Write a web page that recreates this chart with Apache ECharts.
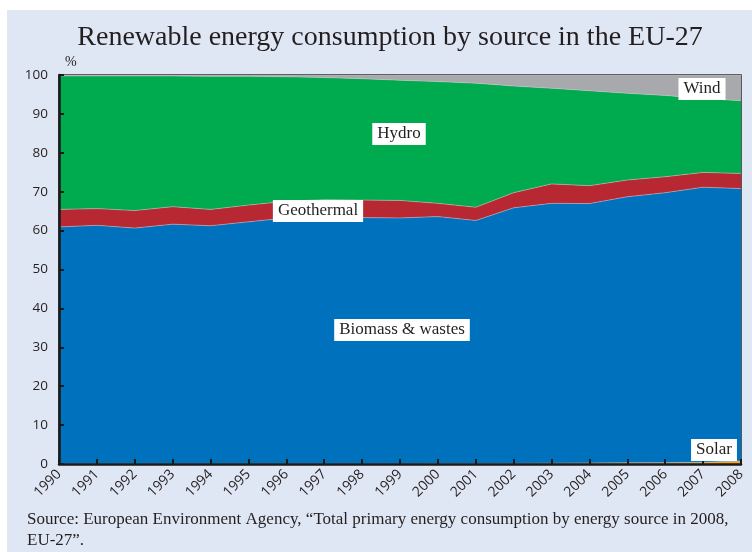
<!DOCTYPE html>
<html>
<head>
<meta charset="utf-8">
<script src="https://cdn.jsdelivr.net/npm/echarts@6/dist/echarts.min.js"></script>
<style>
html,body{margin:0;padding:0;background:#fff;}
#chart{width:752px;height:552px;}
</style>
</head>
<body>
<div id="chart"></div>
<script>
const years = ['1990','1991','1992','1993','1994','1995','1996','1997','1998','1999','2000','2001','2002','2003','2004','2005','2006','2007','2008'];
const solar = [0.05,0.05,0.05,0.05,0.05,0.05,0.05,0.05,0.05,0.05,0.1,0.1,0.15,0.2,0.25,0.3,0.35,0.45,0.8];
const biomass = [60.9,61.3,60.6,61.6,61.2,62.2,63.2,63.3,63.3,63.2,63.5,62.5,65.7,66.8,66.7,68.4,69.4,70.7,70.0];
const geothermal = [4.5,4.3,4.5,4.5,4.2,4.3,4.3,4.6,4.5,4.5,3.4,3.4,3.9,5.0,4.6,4.3,4.1,3.8,3.9];
const hydro = [34.3,34.1,34.6,33.6,34.2,33.1,32.0,31.4,31.2,30.9,31.3,31.9,27.4,24.6,24.4,22.3,20.9,19.0,18.7];
const wind = [0.25,0.25,0.25,0.25,0.35,0.35,0.45,0.65,0.95,1.35,1.7,2.1,2.85,3.4,4.05,4.7,5.25,6.05,6.6];
const yTicks = [0,10,20,30,40,50,60,70,80,90,100];

const chart = echarts.init(document.getElementById('chart'), null, {renderer:'canvas'});
function areaSeries(name, data, color){
  return {
    name, type:'line', stack:'total', data, symbol:'none', smooth:false,
    areaStyle:{color, opacity:1},
    lineStyle:{width:0.6, color:'rgba(215,200,205,0.8)'},
    itemStyle:{color}, emphasis:{disabled:true}, silent:true
  };
}
function lbl(text, x, y){
  return {type:'text', x, y, z:100, style:{text, fontFamily:'Liberation Serif', fontSize:17, fill:'#231f20', backgroundColor:'#fff', padding:[3,5,2,5], align:'center', verticalAlign:'middle'}};
}
chart.setOption({
  animation:false,
  backgroundColor:'#fff',
  graphic:[
    {type:'rect', z:-10, shape:{x:7,y:10,width:745,height:542}, style:{fill:'#e0e7f4'}},
    {type:'text', x:390, y:24, style:{text:'Renewable energy consumption by source in the EU-27', fontFamily:'Liberation Serif', fontSize:28, fill:'#231f20', align:'center', verticalAlign:'top'}},
    {type:'text', left:65, top:55, style:{text:'%', fontFamily:'Liberation Serif', fontSize:14, fill:'#231f20'}},
    {type:'text', left:27, top:509, style:{text:'Source: European Environment Agency, \u201cTotal primary energy consumption by energy source in 2008,\nEU-27\u201d.', fontFamily:'Liberation Serif', fontSize:17, lineHeight:21, fill:'#231f20'}},
    lbl('Hydro', 399, 134),
    lbl('Geothermal', 318, 211),
    lbl('Biomass & wastes', 402, 330),
    lbl('Wind', 702, 89),
    lbl('Solar', 714, 450)
  ],
  grid:{left:59, right:11, top:75, bottom:88, show:true, borderColor:'#2b2b2b', borderWidth:1.5, containLabel:false},
  xAxis:{
    type:'category', data:years, boundaryGap:false,
    axisLine:{show:true, lineStyle:{color:'#1a1a1a', width:2.5}},
    axisTick:{show:true, inside:true, length:5, lineStyle:{color:'#1a1a1a', width:2}},
    axisLabel:{rotate:45, fontFamily:'Open Sans', fontSize:14, color:'#231f20', margin:8, interval:0},
    splitLine:{show:false}, z:10
  },
  yAxis:{
    type:'value', min:0, max:100, interval:10,
    axisLine:{show:true, lineStyle:{color:'#1a1a1a', width:2.5}},
    axisTick:{show:true, inside:true, length:5, lineStyle:{color:'#1a1a1a', width:2}},
    axisLabel:{fontFamily:'Open Sans', fontSize:13.5, color:'#231f20', margin:11,
      formatter:v=>yTicks.includes(v)?String(v):''},
    splitLine:{show:false}, z:10
  },
  series:[
    areaSeries('Solar', solar, '#f3a41b'),
    areaSeries('Biomass & wastes', biomass, '#0071bc'),
    areaSeries('Geothermal', geothermal, '#b82832'),
    areaSeries('Hydro', hydro, '#00aa4f'),
    areaSeries('Wind', wind, '#a7a9ac')
  ]
});
</script>
</body>
</html>
